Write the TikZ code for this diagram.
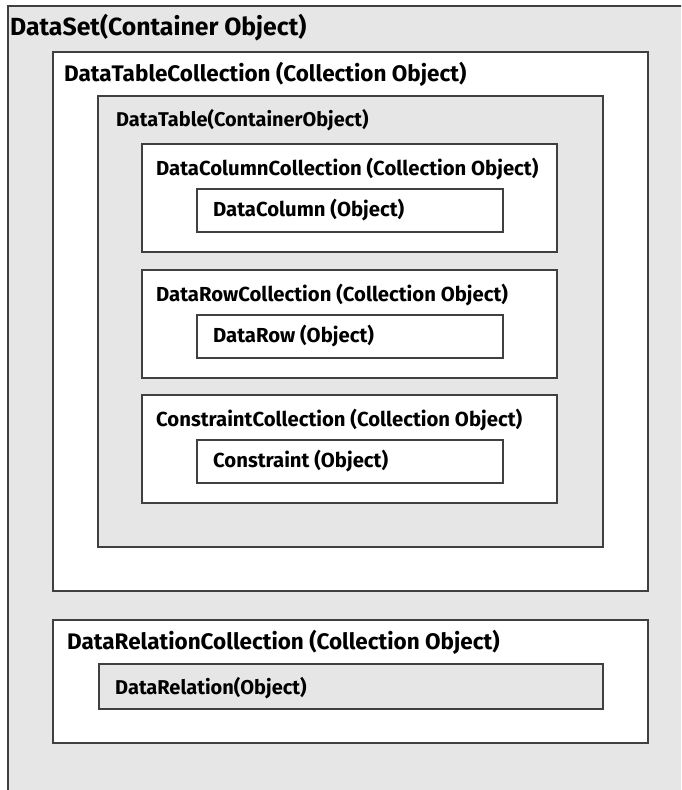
\documentclass[tikz,border=0pt]{standalone}
\usepackage{fontspec}
\setmainfont{Fira Sans}
\definecolor{panel}{HTML}{E6E6E6}
\definecolor{edge}{HTML}{404040}
\tikzset{
  frame/.style={draw=edge, line width=1.2pt},
  title/.style={anchor=base west, inner sep=0pt, font=\bfseries\fontsize{20.3}{24}\selectfont},
  bigtitle/.style={title, font=\bfseries\fontsize{22.5}{26}\selectfont},
}

\begin{document}
\begin{tikzpicture}[x=1pt, y=-1pt]
\useasboundingbox (0,0) rectangle (681,790);
\clip (0,0) rectangle (681,790);
\fill[white] (0,0) rectangle (681,790);
% outer container, runs off the page right and below
\draw[frame, fill=panel] (8,6) rectangle (700,810);
\node[title, font=\bfseries\fontsize{24.8}{28}\selectfont] (dataset) at (10,35) {DataSet(Container Object)};

\draw[frame, fill=white] (53,52) rectangle (648,591);
\node[bigtitle] (tables) at (64,81) {DataTableCollection (Collection Object)};

\draw[frame, fill=panel] (98,96) rectangle (603,547);
\node[title, font=\bfseries\fontsize{19.9}{24}\selectfont] (table) at (116,126) {DataTable(ContainerObject)};

% the three collections of a table
\foreach \top/\coll/\item/\name in {
    144/DataColumnCollection/DataColumn/column,
    270/DataRowCollection/DataRow/row,
    395/ConstraintCollection/Constraint/constraint} {
  \draw[frame, fill=white] (142,\top) rectangle (557,\top+108);
  \node[title] (\name s) at (156,\top+31) {\coll\ (Collection Object)};
  \draw[frame, fill=white] (197,\top+45) rectangle (503,\top+88);
  \node[title] (\name) at (213,\top+72) {\item\ (Object)};
}

\draw[frame, fill=white] (53,620) rectangle (648,743);
\node[bigtitle] (relations) at (67,649) {DataRelationCollection (Collection Object)};
\draw[frame, fill=panel] (99,664) rectangle (603,709);
\node[title, font=\bfseries\fontsize{20}{24}\selectfont] (relation) at (115,694) {DataRelation(Object)};
\end{tikzpicture}
\end{document}
